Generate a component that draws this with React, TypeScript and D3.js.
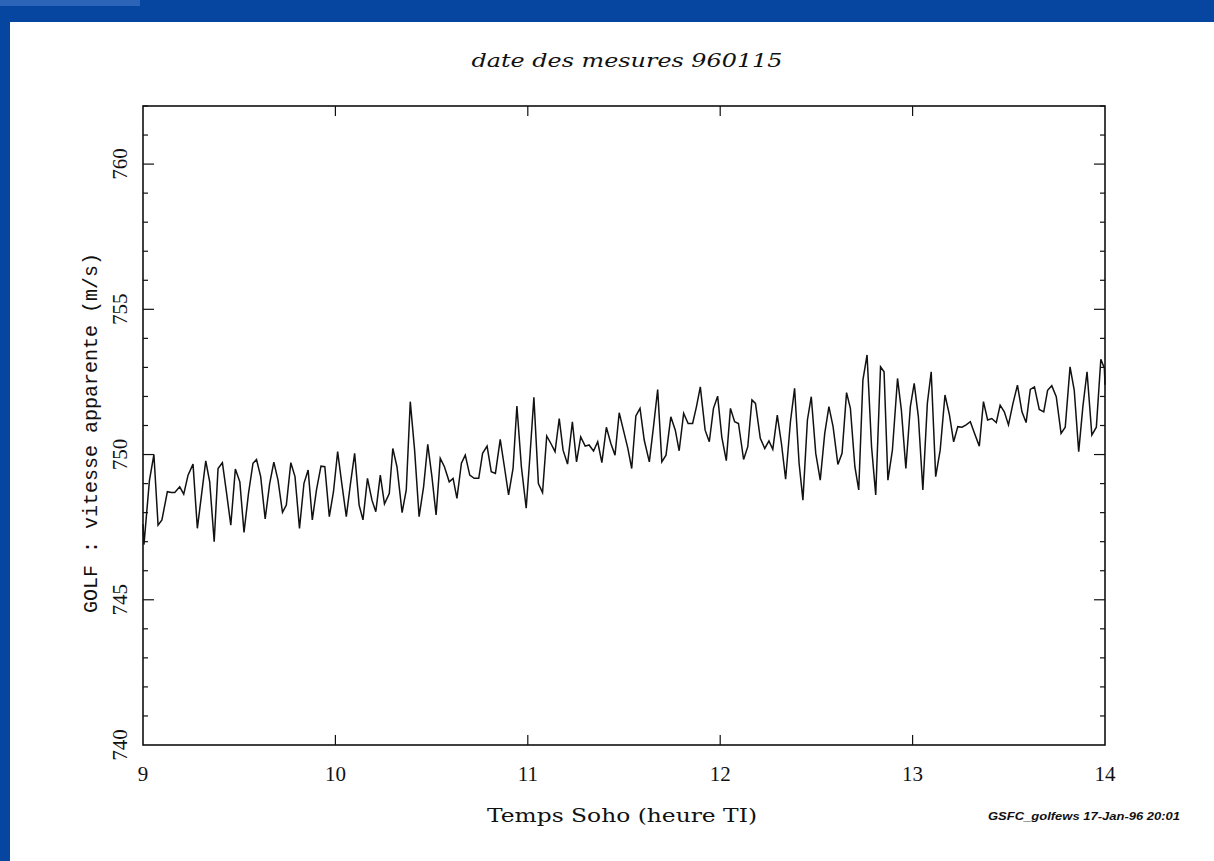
import React from "react";
import * as d3 from "d3";

// GOLF apparent velocity, 15 Jan 1996 — minutes after 09:00 TI and velocity (m/s)
const minutes = [
  0, 0.3, 2.0, 3.4, 4.7, 5.9, 7.6, 8.85, 9.9, 11.45, 12.7, 14.05, 15.6, 16.95, 19.57, 20.8,
  22.2, 23.4, 24.76, 26.0, 27.38, 28.8, 30.2, 31.5, 32.9, 34.3, 35.4, 36.7, 38.1, 39.5, 40.8,
  42.1, 43.5, 44.7, 46.1, 47.4, 48.8, 50.2, 51.5, 52.8, 54.1, 55.5, 56.7, 58.1, 59.4, 60.7,
  62.0, 63.4, 64.7, 66.0, 67.4, 68.6, 70.0, 71.4, 72.6, 74.0, 75.3, 76.8, 77.9, 79.2, 80.8,
  82.1, 83.35, 84.7, 86.1, 87.5, 88.8, 90.1, 91.4, 92.7, 94.0, 95.5, 96.7, 97.9, 99.3, 100.5,
  101.9, 103.3, 104.7, 105.9, 107.3, 108.6, 109.9, 111.4, 112.7, 114.0, 115.4, 116.6, 118.0,
  119.5, 120.7, 121.9, 123.3, 124.6, 125.9, 127.2, 128.5, 129.8, 131.0, 132.4, 133.9, 135.2,
  136.5, 137.9, 139.1, 140.5, 141.8, 143.1, 144.5, 145.9, 147.2, 148.5, 149.8, 151.2, 152.4,
  153.7, 155.0, 156.3, 157.9, 159.2, 160.5, 161.8, 163.1, 164.6, 166.0, 167.2, 168.6, 170.0,
  171.4, 172.6, 173.8, 175.3, 176.6, 177.9, 179.2, 180.5, 181.9, 183.2, 184.5, 185.7, 187.3,
  188.6, 189.9, 191.0, 192.5, 193.9, 195.2, 196.4, 197.8, 199.1, 200.4, 201.9, 203.2, 204.6,
  205.8, 207.2, 208.4, 209.8, 211.2, 212.6, 213.9, 215.2, 216.7, 218.0, 219.4, 220.6, 222.0,
  223.2, 224.5, 225.8, 227.2, 228.5, 230.0, 231.1, 232.3, 233.7, 235.3, 236.5, 237.9, 239.3,
  240.5, 241.8, 243.2, 244.6, 245.8, 247.2, 248.6, 250.1, 251.5, 252.8, 254.1, 255.4, 256.7,
  258.0, 259.3, 260.8, 262.1, 263.4, 264.7, 266.1, 267.3, 268.6, 269.9, 271.3, 272.7, 274.1,
  275.4, 276.7, 278.0, 279.5, 280.9, 282.1, 283.4, 284.8, 286.3, 287.6, 289.1, 290.4, 291.8,
  293.1, 294.4, 295.9, 297.3, 298.7, 299.8, 300,
];

const velocity = [
  747.6, 746.9, 749.1, 750.0, 747.57, 747.75, 748.72, 748.69, 748.69, 748.89, 748.64, 749.29,
  749.67, 747.46, 749.78, 749.06, 747.0, 749.52, 749.72, 748.72, 747.57, 749.5, 749.06, 747.32,
  748.66, 749.7, 749.83, 749.24, 747.78, 749.0, 749.74, 749.12, 748.01, 748.26, 749.72, 749.24,
  747.46, 749.01, 749.47, 747.75, 748.78, 749.6, 749.58, 747.86, 748.72, 750.1,
  749.0, 747.86, 749.0, 750.04, 748.26, 747.75, 749.18, 748.43, 748.03, 749.29, 748.3, 748.66,
  750.21, 749.58, 748.0, 748.78, 751.82, 750.15, 747.86, 748.89, 750.35, 749.24, 747.92, 749.87,
  749.58, 749.06, 749.18, 748.49, 749.7, 749.98, 749.29, 749.18, 749.18, 750.04, 750.29, 749.41,
  749.35, 750.52, 749.58, 748.61, 749.52, 751.67, 749.58, 748.15, 750.0, 751.97, 749.0, 748.69,
  750.64, 750.38, 750.1, 751.24, 750.15, 749.67, 751.13, 749.75, 750.61, 750.29, 750.33, 750.12,
  750.44, 749.72, 750.94, 750.38, 749.98, 751.44, 750.85, 750.21, 749.52, 751.33, 751.59, 750.5,
  749.75, 750.96, 752.24, 749.75, 749.98, 751.3, 750.84, 750.13, 751.42, 751.07, 751.07, 751.65,
  752.33, 750.84, 750.44, 751.59, 752.01, 750.6, 749.79, 751.59, 751.13, 751.07, 749.83, 750.27,
  751.88, 751.76, 750.56, 750.21, 750.47, 750.18, 751.36, 750.38, 749.15, 751.13, 752.28, 749.7,
  748.43, 751.19, 751.99, 750.04, 749.12, 750.73, 751.65, 750.96, 749.66, 750.04, 752.13, 751.59,
  749.58, 748.78, 752.56, 753.43, 750.27, 748.61, 753.02, 752.85, 749.12, 750.15, 752.62, 751.53,
  749.52, 751.65, 752.45, 751.3, 748.78, 751.76, 752.85, 749.24, 750.15, 752.05, 751.36, 750.44,
  750.96, 750.94, 751.02, 751.13, 750.73, 750.29, 751.82, 751.19, 751.24, 751.1, 751.7, 751.47,
  751.02, 751.76, 752.39, 751.47, 751.1, 752.24, 752.33, 751.55, 751.47, 752.21, 752.37, 751.99,
  750.73, 750.94, 753.02, 752.22, 750.1, 751.65, 752.85, 750.67, 750.94, 753.28, 752.97, 752.4,
];

const hourTicks = [9, 10, 11, 12, 13, 14];
const velocityLabels = [740, 745, 750, 755, 760];
const velocityDomain = [740, 762];

const title = "date des mesures 960115";
const xTitle = "Temps Soho (heure TI)";
const yTitle = "GOLF : vitesse apparente (m/s)";
const stamp = "GSFC_golfews 17-Jan-96 20:01";

const W = 1214;
const H = 861;
const plot = { left: 143, right: 1105, top: 106, bottom: 745 };

export default function App() {
  const x = d3.scaleLinear().domain([9, 14]).range([plot.left, plot.right]);
  const y = d3.scaleLinear().domain(velocityDomain).range([plot.bottom, plot.top]);

  const points: [number, number][] = minutes.map((m, i) => [9 + m / 60, velocity[i]]);
  const path = d3
    .line<[number, number]>()
    .x((d) => x(d[0]))
    .y((d) => y(d[1]))(points);

  const unitTicks = d3.range(velocityDomain[0] + 1, velocityDomain[1] + 0.5, 1);
  const serif = "'Liberation Serif', 'Times New Roman', serif";
  const wideSerif = "'DejaVu Serif', 'Liberation Serif', serif";

  return (
    <svg
      width={W}
      height={H}
      viewBox={`0 0 ${W} ${H}`}
      style={{ position: "absolute", left: 0, top: 0, display: "block" }}
    >
      {/* slide background */}
      <rect x={0} y={0} width={W} height={H} fill="#0645a0" />
      <rect x={0} y={0} width={140} height={6} fill="#2c64b8" />
      <rect x={10} y={22} width={W - 10} height={H - 22} fill="#ffffff" />

      <text
        x={627}
        y={67}
        textAnchor="middle"
        fontFamily={wideSerif}
        fontStyle="italic"
        fontSize={19}
        textLength={311}
        lengthAdjust="spacingAndGlyphs"
        fill="#111"
      >
        {title}
      </text>

      {/* frame */}
      <rect
        x={plot.left}
        y={plot.top}
        width={plot.right - plot.left}
        height={plot.bottom - plot.top}
        fill="none"
        stroke="#111"
        strokeWidth={1.6}
      />

      {/* velocity ticks, both sides, every 1 m/s */}
      {unitTicks.map((v) => {
        const len = v % 5 === 0 ? 11 : 5;
        return (
          <g key={`yt${v}`} stroke="#111" strokeWidth={1.2}>
            <line x1={plot.left} x2={plot.left + len} y1={y(v)} y2={y(v)} />
            <line x1={plot.right} x2={plot.right - len} y1={y(v)} y2={y(v)} />
          </g>
        );
      })}

      {/* hour ticks, top and bottom */}
      {hourTicks.slice(1, -1).map((h) => (
        <g key={`xt${h}`} stroke="#111" strokeWidth={1.2}>
          <line x1={x(h)} x2={x(h)} y1={plot.bottom} y2={plot.bottom - 10} />
          <line x1={x(h)} x2={x(h)} y1={plot.top} y2={plot.top + 10} />
        </g>
      ))}

      {velocityLabels.map((v) => (
        <text
          key={`yl${v}`}
          transform={`translate(127,${y(v)}) rotate(-90)`}
          textAnchor="middle"
          fontFamily={serif}
          fontSize={21}
          fill="#111"
        >
          {v}
        </text>
      ))}

      {hourTicks.map((h) => (
        <text
          key={`xl${h}`}
          x={x(h)}
          y={781}
          textAnchor="middle"
          fontFamily={serif}
          fontSize={21}
          fill="#111"
        >
          {h}
        </text>
      ))}

      <text
        transform={`translate(97,${433}) rotate(-90)`}
        textAnchor="middle"
        fontFamily="'Liberation Mono', 'Courier New', monospace"
        fontSize={20}
        fill="#111"
      >
        {yTitle}
      </text>

      <text
        x={622}
        y={822}
        textAnchor="middle"
        fontFamily={wideSerif}
        fontSize={19}
        textLength={270}
        lengthAdjust="spacingAndGlyphs"
        fill="#111"
      >
        {xTitle}
      </text>

      <text
        x={1084}
        y={820}
        textAnchor="middle"
        fontFamily="'Liberation Sans', Arial, sans-serif"
        fontStyle="italic"
        fontWeight="bold"
        fontSize={10}
        textLength={192}
        lengthAdjust="spacingAndGlyphs"
        fill="#111"
      >
        {stamp}
      </text>

      <path d={path ?? ""} fill="none" stroke="#111" strokeWidth={1.5} strokeLinejoin="miter" />
    </svg>
  );
}
